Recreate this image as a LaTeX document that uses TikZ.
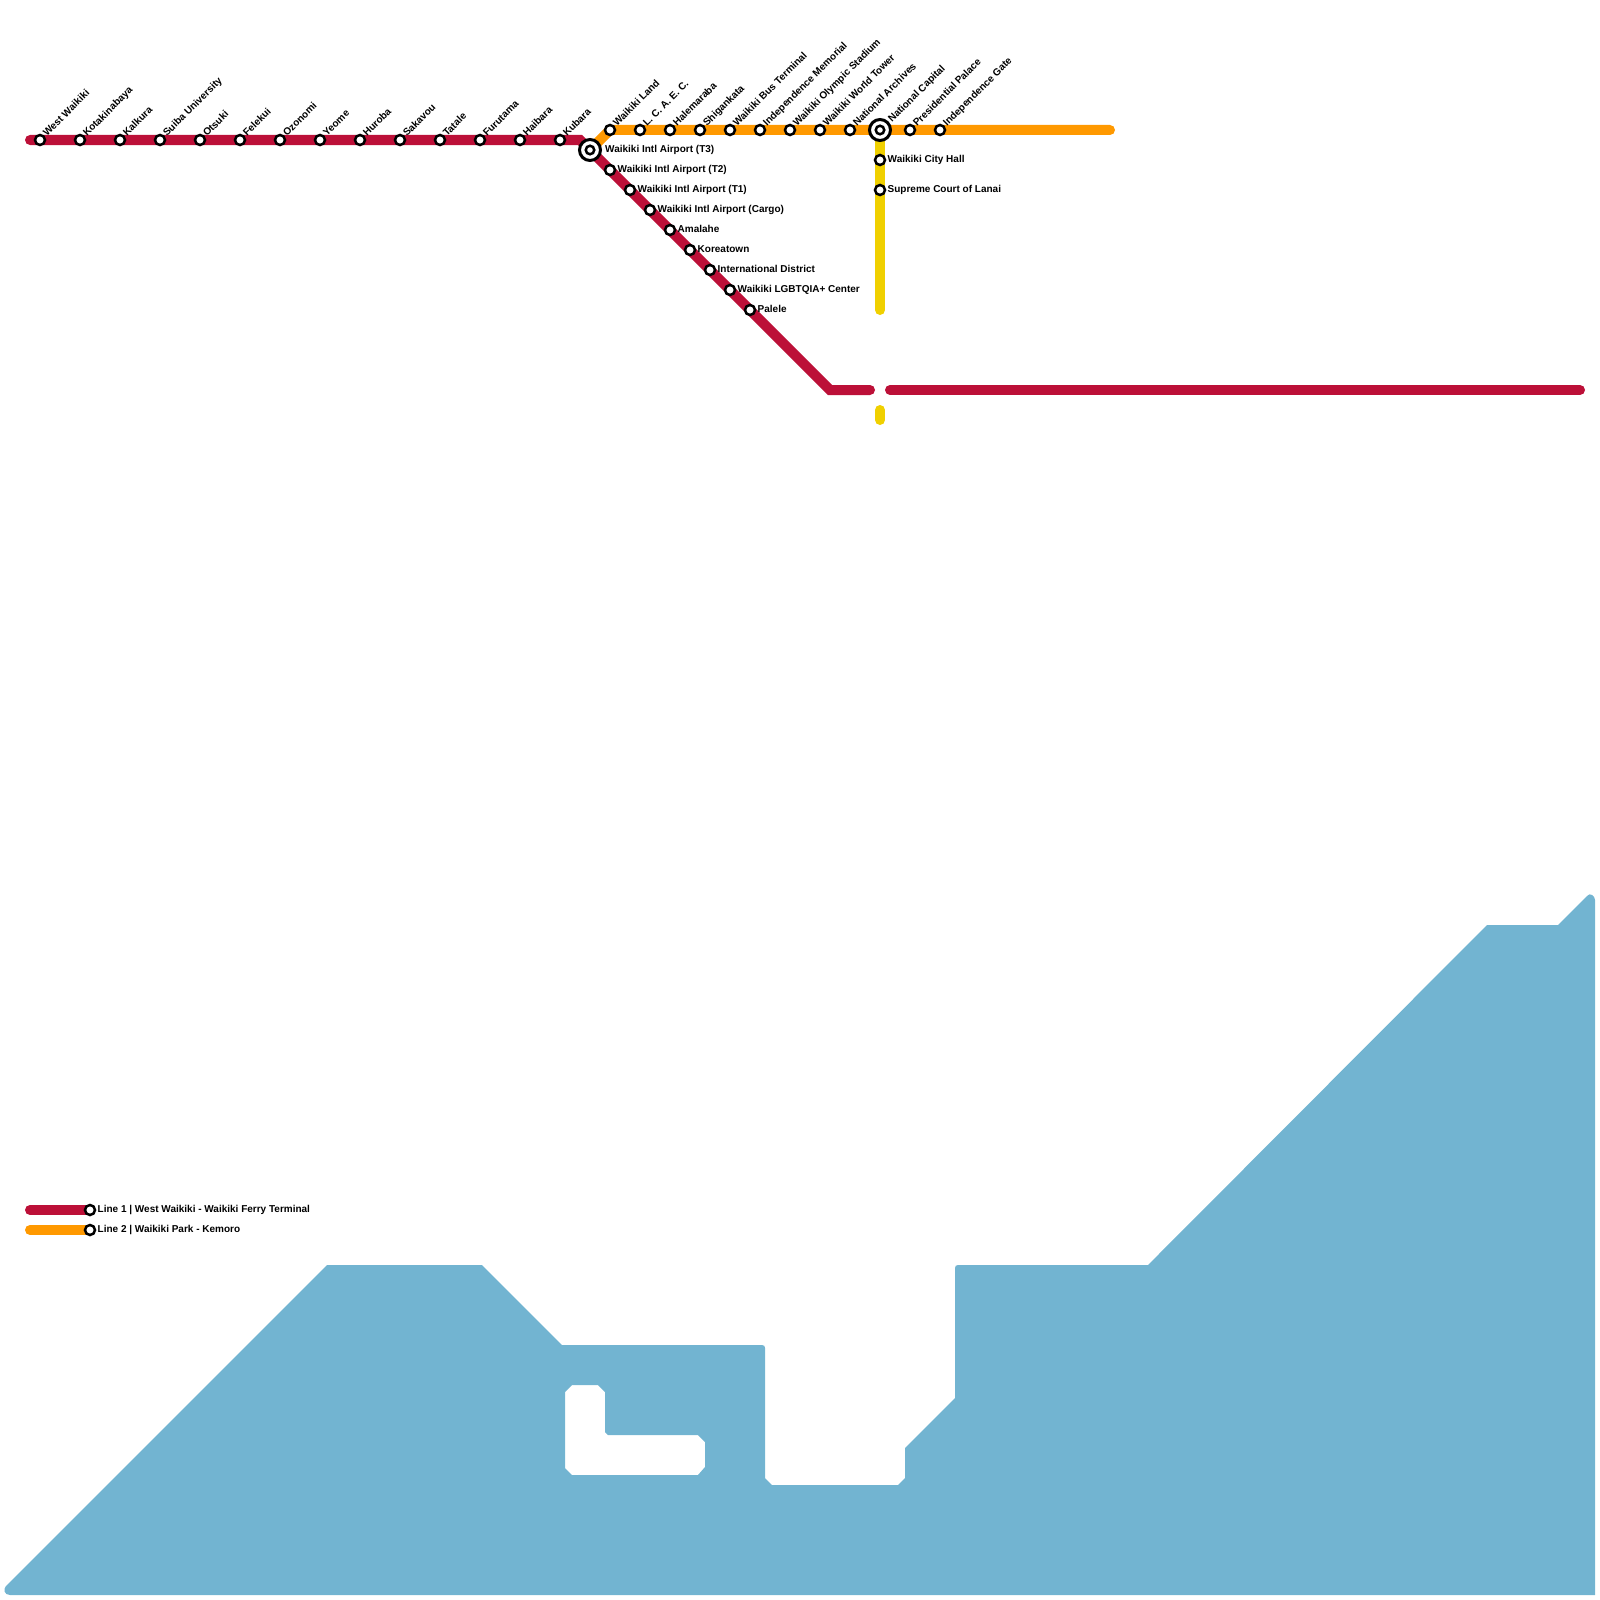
\documentclass[tikz,border=0pt]{standalone}
\usepackage{fontspec}
\setmainfont{Liberation Sans}[BoldFont={Liberation Sans Bold}]
\definecolor{lineone}{HTML}{BC1038}
\definecolor{linetwo}{HTML}{FF9900}
\definecolor{linethree}{HTML}{F0D000}
\definecolor{water}{HTML}{72B4D1}
\tikzset{
  every node/.style={font=\fontsize{10}{12}\selectfont\bfseries, text=black},
  metro/.style={line width=10pt,line cap=round,line join=miter},
  stn/.style={circle,draw=black,line width=2.5pt,fill=white,minimum size=10pt,inner sep=0pt,outer sep=0pt},
  hub/.style={circle,draw=black,line width=3pt,fill=white,minimum size=21pt,inner sep=0pt,outer sep=0pt},
  hubcore/.style={circle,draw=black,line width=2.5pt,fill=white,minimum size=8.5pt,inner sep=0pt,outer sep=0pt},
  up/.style={rotate=45,anchor=base west,inner sep=0pt},
  side/.style={anchor=base west,inner sep=0pt},
}
\begin{document}
\begin{tikzpicture}[x=1pt,y=-1pt]
\useasboundingbox (0,0) rectangle (1600,1600);
% water
\fill[water,even odd rule]
 (6,1586) .. controls (3,1589) and (4,1595) .. (10,1595)
 -- (1595,1595) -- (1595,900) .. controls (1595,896) and (1590,892) .. (1587,896)
 -- (1558,925) -- (1487,925) -- (1148,1265) -- (958,1265)
 .. controls (956,1265) and (955,1266) .. (955,1268) -- (955,1398) -- (905,1448) -- (905,1478) -- (898,1485)
 -- (772,1485) -- (765,1478) -- (765,1348) .. controls (765,1346) and (764,1345) .. (762,1345)
 -- (562,1345) -- (482,1265) -- (327,1265) -- cycle
 (565,1392) -- (572,1385) -- (598,1385) -- (605,1392) -- (605,1432) -- (608,1435) -- (698,1435) -- (705,1442) -- (705,1467) -- (698,1475) -- (572,1475) -- (565,1468) -- cycle;
% free line ends
\coordinate (rA) at (30,140);
\coordinate (rB) at (580,140);
\coordinate (rC) at (830,390);
\coordinate (rD) at (870,390);
\coordinate (rE) at (890,390);
\coordinate (rF) at (1580,390);
\coordinate (oA) at (1110,130);
\coordinate (yA) at (880,310);
\coordinate (yB) at (880,410);
\coordinate (yC) at (880,420);
\coordinate (lgA) at (30,1210);
\coordinate (lgB) at (30,1230);
\coordinate (hubA) at (590,150);
\coordinate (hubB) at (880,130);
\coordinate (oB) at (610,130);
\coordinate (lgC) at (90,1210);
\coordinate (lgD) at (90,1230);
% lines
\draw[metro,linetwo] (hubA) -- (oB) -- (oA);
\draw[metro,linethree] (hubB) -- (yA);
\draw[metro,linethree] (yB) -- (yC);
\draw[metro,lineone] (rA) -- (rB) -- (rC) -- (rD);
\draw[metro,lineone] (rE) -- (rF);
\draw[metro,lineone] (lgA) -- (lgC);
\draw[metro,linetwo] (lgB) -- (lgD);
% stations, rotated labels
\foreach \n/\x/\y/\t in {
 a1/40/140/West Waikiki, a2/80/140/Kotakinabaya, a3/120/140/Kalkura, a4/160/140/Suiba University,
 a5/200/140/Otsuki, a6/240/140/Felekui, a7/280/140/Ozonomi, a8/320/140/Yeome, a9/360/140/Huroba,
 a10/400/140/Sakavou, a11/440/140/Tatale, a12/480/140/Furutama, a13/520/140/Haibara, a14/560/140/Kubara,
 b1/610/130/Waikiki Land, b2/640/130/L. C. A. E. C., b3/670/130/Halemaraba, b4/700/130/Shigankata,
 b5/730/130/Waikiki Bus Terminal, b6/760/130/Independence Memorial, b7/790/130/Waikiki Olympic Stadium,
 b8/820/130/Waikiki World Tower, b9/850/130/National Archives, b11/910/130/Presidential Palace,
 b12/940/130/Independence Gate}{
  \node[stn] (\n) at (\x,\y) {};
  \node[up] at ([shift={(7,-3)}]\n.center) {\t};
}
\node[hub] (h2) at (hubB) {};
\node[hubcore] at (h2.center) {};
\node[up] at ([shift={(12,-7)}]h2.center) {National Capital};
% stations, side labels
\node[hub] (h1) at (hubA) {};
\node[hubcore] at (h1.center) {};
\node[side] at ([shift={(15,2)}]h1.center) {Waikiki Intl Airport (T3)};
\foreach \n/\x/\y/\t in {
 c1/610/170/Waikiki Intl Airport (T2), c2/630/190/Waikiki Intl Airport (T1), c3/650/210/Waikiki Intl Airport (Cargo),
 c4/670/230/Amalahe, c5/690/250/Koreatown, c6/710/270/International District, c7/730/290/Waikiki LGBTQIA+ Center,
 c8/750/310/Palele, d1/880/160/Waikiki City Hall, d2/880/190/Supreme Court of Lanai,
 e1/90/1210/Line 1 | West Waikiki - Waikiki Ferry Terminal, e2/90/1230/Line 2 | Waikiki Park - Kemoro}{
  \node[stn] (\n) at (\x,\y) {};
  \node[side] at ([shift={(7.5,2)}]\n.center) {\t};
}
\end{tikzpicture}
\end{document}
